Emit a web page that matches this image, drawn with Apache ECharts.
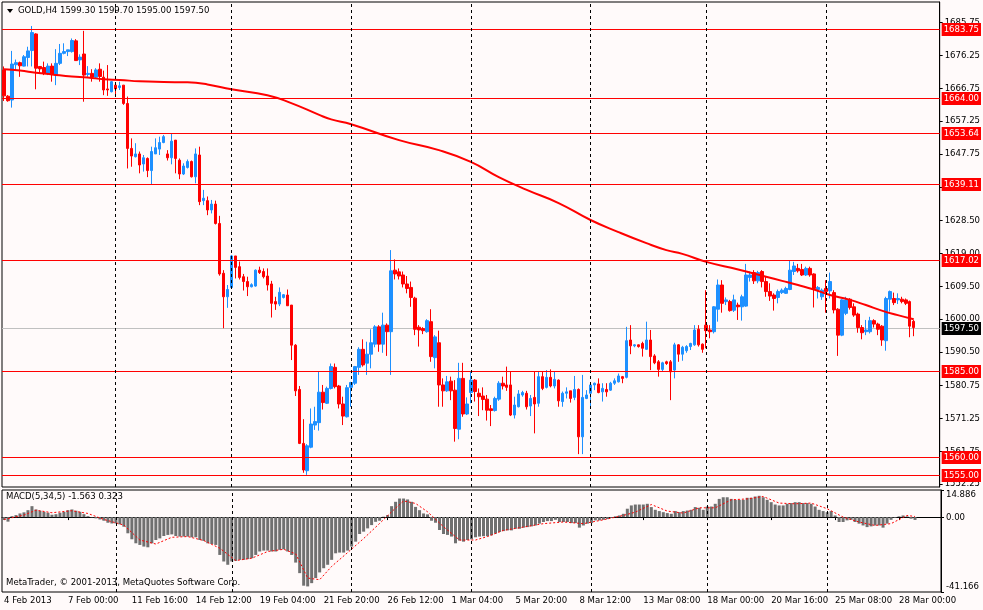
<!DOCTYPE html>
<html><head><meta charset="utf-8">
<script src="https://cdn.jsdelivr.net/npm/echarts@6/dist/echarts.min.js"></script>
<style>html,body{margin:0;padding:0;background:#FFFAFA;} #c{width:983px;height:610px;}</style>
</head><body><div id="c"></div>
<script>
const symbolName = 'GOLD,H4';
const opens = [1672.0,1664.4,1663.3,1673.5,1674.1,1673.1,1675.6,1677.6,1682.4,1673.0,
1672.7,1671.0,1673.1,1670.5,1673.9,1676.8,1677.3,1677.3,1680.4,1674.9,
1676.6,1670.7,1671.0,1669.9,1672.2,1669.9,1666.5,1665.7,1667.6,1666.9,
1667.6,1662.3,1649.3,1646.9,1647.7,1644.8,1646.4,1642.9,1647.7,1649.1,
1651.0,1647.7,1646.6,1651.7,1645.9,1641.9,1643.8,1645.5,1641.1,1647.4,
1634.2,1634.2,1631.5,1633.2,1627.6,1613.2,1606.4,1609.1,1618.2,1615.1,
1612.2,1610.8,1609.3,1609.5,1614.1,1613.7,1612.4,1610.1,1605.0,1604.3,
1606.2,1606.9,1604.0,1592.4,1579.6,1564.0,1556.1,1562.9,1569.3,1570.0,
1578.8,1575.6,1579.9,1586.0,1580.6,1575.4,1571.7,1580.2,1581.4,1586.0,
1591.2,1587.2,1589.8,1592.7,1597.7,1592.7,1598.2,1596.3,1614.1,1613.6,
1612.7,1610.1,1609.1,1606.0,1597.6,1597.2,1596.3,1599.2,1588.8,1593.1,
1580.9,1579.2,1582.0,1579.4,1568.1,1582.8,1572.5,1578.7,1582.3,1578.5,
1577.7,1576.8,1574.0,1573.5,1576.8,1581.4,1580.9,1580.9,1572.2,1574.6,
1578.0,1578.5,1574.8,1577.3,1575.6,1583.3,1580.2,1583.1,1580.6,1582.3,
1576.1,1578.5,1579.2,1577.3,1579.6,1565.9,1577.0,1578.5,1580.9,1581.2,
1578.9,1579.6,1579.4,1581.4,1581.8,1583.3,1583.1,1593.9,1592.2,1592.5,
1592.9,1591.2,1593.9,1589.3,1587.6,1585.4,1587.6,1587.6,1585.2,1592.5,
1589.8,1590.8,1592.0,1592.5,1597.0,1592.7,1598.2,1596.8,1596.3,1602.8,
1609.8,1605.0,1605.0,1602.5,1604.0,1603.5,1603.7,1612.0,1613.4,1611.0,
1613.7,1610.8,1607.9,1606.9,1606.2,1607.6,1607.4,1608.5,1613.7,1614.6,
1614.3,1612.7,1614.6,1613.0,1608.5,1606.4,1608.8,1608.1,1607.6,1602.8,
1595.3,1601.6,1605.7,1603.5,1601.4,1597.5,1596.3,1596.3,1599.5,1598.5,
1597.9,1593.7,1605.7,1605.9,1605.5,1605.7,1605.5,1605.0,1599.3];
const highs = [1673.0,1664.7,1677.5,1675.0,1674.4,1676.3,1678.7,1684.7,1682.6,1673.1,
1674.4,1673.9,1673.9,1678.0,1679.5,1679.7,1677.8,1681.1,1680.9,1676.5,
1683.3,1673.1,1672.2,1672.5,1673.9,1671.8,1673.4,1668.8,1668.1,1668.6,
1667.6,1664.3,1652.2,1650.8,1648.4,1647.4,1646.7,1649.8,1652.2,1652.7,
1653.2,1648.8,1653.7,1651.7,1646.4,1645.0,1646.1,1645.8,1649.3,1649.8,
1637.3,1635.4,1634.4,1634.2,1629.8,1614.1,1609.8,1618.5,1618.2,1616.6,
1613.0,1612.2,1610.3,1614.3,1615.1,1614.6,1614.6,1611.0,1606.4,1609.1,
1607.2,1608.5,1604.0,1592.7,1580.6,1571.0,1563.8,1574.1,1574.6,1584.7,
1580.9,1580.4,1587.1,1587.1,1580.9,1577.5,1580.9,1581.8,1586.4,1591.8,
1594.1,1593.4,1597.0,1598.2,1598.2,1601.8,1598.7,1619.9,1617.2,1614.6,
1613.7,1612.4,1610.8,1606.4,1598.2,1597.6,1599.9,1602.8,1595.3,1596.6,
1582.8,1583.5,1583.3,1582.3,1587.3,1587.3,1577.3,1584.7,1582.6,1579.9,
1580.2,1578.0,1575.1,1577.5,1582.0,1583.3,1586.2,1584.7,1577.5,1579.4,
1579.2,1579.2,1578.0,1584.7,1584.7,1584.7,1585.2,1585.4,1584.7,1582.5,
1579.0,1580.2,1579.2,1583.5,1579.9,1583.8,1579.4,1581.4,1581.6,1582.8,
1581.4,1581.4,1581.8,1582.8,1584.2,1583.5,1597.7,1598.2,1592.7,1592.6,
1593.4,1599.2,1596.8,1589.8,1588.1,1587.6,1587.9,1588.1,1593.1,1592.7,
1592.2,1592.4,1593.1,1598.2,1598.2,1592.9,1608.3,1598.2,1603.7,1611.4,
1611.2,1606.2,1605.5,1607.0,1604.7,1607.0,1615.9,1613.7,1614.1,1613.9,
1614.1,1612.2,1610.3,1607.4,1608.5,1608.8,1609.3,1616.8,1616.5,1615.9,
1615.9,1615.1,1615.1,1613.2,1609.5,1608.8,1611.2,1613.4,1608.3,1603.1,
1605.7,1606.4,1606.0,1604.5,1601.8,1598.2,1599.7,1600.6,1599.9,1598.9,
1598.2,1606.4,1608.2,1607.6,1607.4,1606.4,1605.9,1605.3,1599.7];
const lows = [1663.0,1662.8,1661.1,1672.0,1670.0,1673.0,1673.0,1673.0,1666.4,1671.0,
1670.5,1670.5,1668.6,1667.6,1673.4,1676.5,1676.0,1677.0,1674.7,1673.4,
1662.8,1670.0,1668.6,1669.6,1668.6,1664.7,1664.5,1665.5,1665.0,1666.2,
1661.9,1643.5,1644.0,1646.7,1642.1,1642.6,1641.0,1639.0,1647.7,1647.4,
1650.8,1645.8,1644.7,1642.1,1640.4,1641.6,1643.5,1640.9,1639.2,1632.9,
1632.9,1630.0,1630.5,1627.3,1612.5,1597.3,1603.2,1608.8,1611.7,1611.4,
1608.2,1606.6,1609.1,1609.3,1613.0,1611.7,1608.2,1600.4,1602.6,1603.7,
1605.9,1603.8,1588.1,1577.7,1563.8,1555.5,1554.9,1562.6,1567.9,1567.7,
1573.8,1575.4,1579.6,1579.9,1574.1,1569.3,1571.5,1574.6,1580.9,1583.8,
1586.2,1583.8,1585.7,1591.8,1590.5,1590.2,1589.3,1583.8,1611.4,1611.4,
1609.1,1607.4,1603.5,1595.3,1592.0,1595.6,1596.0,1587.6,1585.7,1574.6,
1574.6,1578.9,1576.5,1564.5,1565.2,1571.7,1572.2,1575.6,1576.1,1571.9,
1573.6,1570.6,1569.0,1573.2,1576.3,1579.6,1579.2,1571.9,1571.2,1574.4,
1577.5,1573.8,1571.9,1566.9,1574.6,1579.4,1579.9,1580.2,1579.9,1574.6,
1574.6,1577.0,1575.8,1576.5,1560.9,1560.9,1576.8,1574.6,1579.4,1578.5,
1576.1,1577.5,1579.2,1580.9,1581.6,1581.4,1582.8,1589.8,1591.8,1591.7,
1589.1,1591.0,1585.2,1586.9,1583.3,1584.7,1586.7,1576.5,1582.8,1587.6,
1587.9,1590.2,1591.0,1592.2,1592.0,1590.2,1591.5,1594.4,1595.8,1599.2,
1601.8,1604.0,1602.1,1602.0,1599.7,1599.5,1603.5,1610.8,1610.1,1610.3,
1609.1,1606.4,1605.2,1602.4,1604.5,1607.2,1607.2,1608.3,1612.7,1613.4,
1612.4,1612.4,1612.2,1603.3,1605.9,1605.5,1601.8,1605.9,1601.6,1589.3,
1595.0,1601.1,1602.7,1600.6,1596.0,1594.1,1595.3,1595.8,1597.5,1595.3,
1592.2,1590.8,1602.1,1604.0,1604.3,1604.5,1604.0,1594.7,1595.0];
const closes = [1664.5,1663.1,1673.7,1674.1,1673.2,1675.8,1677.5,1682.8,1672.5,1672.3,
1671.0,1673.1,1670.7,1673.9,1676.8,1677.3,1677.8,1680.5,1674.7,1675.7,
1670.5,1671.0,1669.9,1672.0,1670.1,1666.2,1666.2,1668.6,1666.5,1667.4,
1662.3,1649.3,1647.1,1647.7,1644.5,1646.6,1642.9,1648.4,1649.5,1651.0,
1652.7,1646.6,1651.4,1646.4,1641.9,1644.2,1645.5,1641.1,1647.7,1633.9,
1634.9,1631.5,1633.2,1627.6,1613.0,1606.4,1608.5,1618.2,1614.9,1612.0,
1610.8,1609.3,1609.9,1614.1,1613.4,1612.2,1609.8,1604.5,1604.3,1607.7,
1607.0,1603.8,1592.4,1579.2,1564.0,1556.3,1563.3,1569.6,1570.3,1578.8,
1575.8,1579.9,1586.2,1580.4,1575.4,1571.9,1580.1,1581.6,1586.2,1591.2,
1586.7,1589.8,1593.1,1597.7,1592.7,1598.2,1596.3,1613.9,1613.0,1612.4,
1610.1,1608.8,1606.2,1597.0,1596.8,1596.6,1599.5,1589.1,1594.8,1580.9,
1579.2,1581.8,1579.2,1568.3,1582.8,1572.5,1575.4,1582.3,1579.0,1577.5,
1576.7,1573.6,1573.5,1577.0,1581.4,1580.6,1580.2,1572.2,1575.1,1578.3,
1578.7,1574.6,1577.0,1575.4,1583.3,1579.9,1583.1,1580.6,1582.5,1576.3,
1578.5,1578.9,1577.0,1579.6,1565.9,1577.3,1578.0,1580.9,1581.4,1578.7,
1579.9,1578.9,1581.4,1582.1,1583.5,1582.8,1593.7,1592.2,1592.5,1592.0,
1591.5,1593.9,1589.1,1587.3,1585.4,1587.3,1587.1,1584.7,1592.5,1589.8,
1591.8,1592.0,1592.9,1596.8,1592.5,1591.2,1596.6,1596.3,1603.5,1609.8,
1604.5,1605.5,1602.4,1605.5,1603.5,1606.4,1612.7,1612.7,1611.0,1613.4,
1610.8,1607.9,1606.6,1605.9,1607.9,1608.3,1608.8,1614.1,1615.3,1613.9,
1612.7,1614.6,1612.7,1608.8,1609.1,1608.3,1607.9,1610.8,1602.6,1595.3,
1605.5,1605.5,1603.3,1601.1,1597.5,1596.0,1596.8,1599.5,1598.5,1597.0,
1593.9,1605.9,1607.9,1604.7,1605.9,1605.0,1604.5,1597.9,1597.5];
// moving average (bar index, value)
const maPoints = [[0,1672.2],[4,1671.8],[8,1671.2],[12,1670.7],[17,1670.1],[21,1669.8],[25,1669.3],[29,1669.1],[34,1668.7],[40,1668.5],[46,1668.4],[51,1667.8],[57,1666.4],[66,1664.7],[72,1662.4],[79,1659.0],[82,1657.7],[87,1656.3],[99,1651.7],[109,1648.8],[117,1645.4],[124,1641.0],[131,1637.3],[139,1633.5],[147,1628.6],[154,1625.1],[161,1621.9],[166,1619.9],[170,1618.8],[176,1616.5],[184,1614.3],[191,1612.2],[195,1611.0],[199,1609.8],[203,1608.5],[207,1606.9],[212,1605.5],[216,1604.0],[220,1602.4],[224,1601.1],[228,1599.9]];
const macdMain = [-1.6,-2.5,0.5,1.1,2.0,2.6,3.8,6.0,4.2,3.5,
2.9,2.4,1.3,1.6,2.4,2.9,3.8,4.2,3.5,2.9,
1.6,0.5,-0.2,-0.7,-1.3,-2.0,-3.1,-3.5,-3.5,-4.0,
-5.3,-8.9,-12.2,-14.4,-15.3,-16.2,-16.6,-14.4,-12.6,-11.7,
-10.4,-9.8,-9.5,-10.4,-10.7,-10.7,-10.7,-11.1,-11.1,-12.6,
-13.1,-14.4,-14.8,-15.3,-20.8,-24.4,-26.2,-24.4,-24.1,-23.5,
-23.5,-23.1,-22.6,-20.8,-18.9,-18.4,-18.4,-18.9,-18.9,-18.0,
-17.7,-18.9,-20.8,-25.0,-30.8,-37.7,-38.1,-36.3,-33.5,-30.4,
-28.1,-26.2,-23.5,-19.9,-19.5,-19.5,-18.4,-16.2,-13.5,-9.3,
-8.0,-6.2,-4.4,-2.6,-2.0,0.2,1.1,6.0,8.4,10.2,
10.2,9.7,8.4,5.6,3.8,2.0,1.5,-2.0,-3.1,-7.1,
-9.3,-9.8,-10.7,-14.4,-12.9,-13.5,-12.6,-12.2,-11.1,-10.7,
-10.5,-10.5,-10.0,-9.1,-8.2,-7.7,-7.3,-7.3,-6.4,-6.4,
-5.8,-5.5,-5.1,-4.6,-3.6,-2.7,-2.2,-2.2,-1.5,-2.7,
-2.7,-2.7,-3.3,-3.3,-5.8,-4.6,-3.6,-3.3,-1.8,-1.8,
-1.5,-1.1,-0.4,0.4,0.9,1.8,4.6,6.4,6.9,6.9,
6.9,7.3,5.5,4.0,3.3,2.7,2.2,1.8,3.3,2.7,
3.3,3.6,4.0,5.5,5.1,4.0,5.8,5.8,7.3,10.0,
10.9,10.9,10.0,9.5,9.5,9.5,10.6,10.6,11.3,11.7,
10.9,9.5,8.2,6.9,6.4,6.4,7.3,7.7,8.2,8.2,
7.7,7.7,7.3,5.8,4.0,3.3,2.7,3.3,0.9,-2.7,
-2.7,-1.8,-1.5,-2.7,-3.6,-4.6,-5.5,-5.1,-4.6,-4.6,
-5.8,-3.6,-1.5,-0.4,0.4,0.9,0.4,-0.9,-1.563];
const macdSignal = [[0,-1.3],[5,1.1],[8,3.8],[12,2.4],[17,3.5],[21,2.0],[25,-1.3],[30,-4.4],[34,-12.6],[38,-14.8],[42,-11.1],[46,-10.7],[50,-12.9],[54,-17.1],[58,-23.9],[62,-22.6],[66,-18.9],[70,-17.7],[73,-20.2],[76,-33.5],[79,-34.4],[82,-27.1],[86,-19.5],[90,-11.8],[94,-3.5],[97,2.9],[100,8.9],[103,7.5],[106,2.9],[110,-5.3],[114,-12.6],[118,-12.6],[121,-10.7],[125,-7.3],[130,-5.5],[135,-3.6],[140,-2.7],[145,-3.6],[150,-1.5],[155,0.9],[158,2.7],[162,6.9],[166,3.3],[170,2.2],[174,5.1],[178,5.1],[182,9.5],[186,10.0],[190,11.3],[194,7.7],[198,7.3],[202,7.7],[206,4.6],[210,0.0],[214,-2.7],[218,-4.6],[222,-3.6],[226,0.9],[228,0.323]];
const timeLabels = ['4 Feb 2013','7 Feb 00:00','11 Feb 16:00','14 Feb 12:00','19 Feb 04:00','21 Feb 20:00','26 Feb 12:00','1 Mar 04:00','5 Mar 20:00','8 Mar 12:00','13 Mar 08:00','18 Mar 00:00','20 Mar 16:00','25 Mar 08:00','28 Mar 00:00'];
const weekStarts = [28,57,87,117,147,176,206];
const levels = [1683.75,1664.00,1653.64,1639.11,1617.02,1585.00,1560.00,1555.00];
const lastPrice = 1597.50;
const priceTicks = [1552.25,1561.75,1571.25,1580.75,1590.50,1600.00,1609.50,1619.00,1628.50,1638.00,1647.75,1657.25,1666.75,1676.25,1685.75];
const macdTicks = [-41.166,0,14.886];

const N = 235;
const FONT = "'DejaVu Sans Condensed','Liberation Sans',Arial,sans-serif";
const FS = 9.5;
const cats = Array.from({length: N}, (_, i) => String(i));
const candles = opens.map((o, i) => [o, closes[i], lows[i], highs[i]]);
const isLabel = i => i % 16 === 0 && i / 16 < timeLabels.length;
const last = opens.length - 1;

const sepLines = weekStarts.map(i => ({xAxis: i}));

// horizontal level line with a price box on the right, snapped to the pixel grid
const levelRenderer = (lineColor, boxColor) => (params, api) => {
  const v = api.value(1);
  const y = Math.round(api.coord([0, v])[1]) + 0.5;
  const cs = params.coordSys;
  return {type: 'group', children: [
    {type: 'line', shape: {x1: cs.x, y1: y, x2: cs.x + cs.width, y2: y}, style: {stroke: lineColor, lineWidth: 1}},
    {type: 'text', x: cs.x + cs.width + 2, y: y, z2: 10, style: {text: v.toFixed(2), fill: '#fff', backgroundColor: boxColor,
      padding: [2, 2, 1, 2], font: FS + 'px ' + FONT, align: 'left', verticalAlign: 'middle'}}
  ]};
};

const chart = echarts.init(document.getElementById('c'), null, {renderer: 'canvas'});
chart.setOption({
  animation: false,
  backgroundColor: '#FFFAFA',
  grid: [
    {left: 2, top: 2, width: 939, height: 485, show: true, borderColor: '#000', borderWidth: 1, backgroundColor: 'transparent'},
    {left: 2, top: 490, width: 939, height: 102, show: true, borderColor: '#000', borderWidth: 1, backgroundColor: 'transparent'}
  ],
  xAxis: [
    {type: 'category', gridIndex: 0, data: cats, boundaryGap: true, axisLine: {show: false}, axisTick: {show: false}, axisLabel: {show: false}, splitLine: {show: false}},
    {type: 'category', gridIndex: 1, data: cats, boundaryGap: true, axisLine: {show: true, lineStyle: {color: '#000'}},
      axisTick: {show: true, interval: i => isLabel(i), alignWithLabel: true, length: 3, lineStyle: {color: '#000'}},
      axisLabel: {show: true, interval: i => isLabel(i), formatter: (v, i) => timeLabels[i / 16] || '', align: 'left', color: '#000', fontSize: FS, fontFamily: FONT, margin: 4},
      splitLine: {show: false}}
  ],
  yAxis: [
    {type: 'value', gridIndex: 0, position: 'right', min: 1551.39, max: 1691.64, splitLine: {show: false},
      axisLine: {show: true, lineStyle: {color: '#000'}},
      axisTick: {show: true, customValues: priceTicks, length: 3, lineStyle: {color: '#000'}},
      axisLabel: {show: true, customValues: priceTicks, formatter: v => v.toFixed(2), color: '#000', fontSize: FS, fontFamily: FONT, margin: 5}},
    {type: 'value', gridIndex: 1, position: 'right', min: -41.166, max: 14.886, splitLine: {show: false},
      axisLine: {show: true, lineStyle: {color: '#000'}},
      axisTick: {show: true, customValues: macdTicks, length: 3, lineStyle: {color: '#000'}},
      axisLabel: {show: true, customValues: macdTicks, formatter: v => v === 0 ? '0.00' : v.toFixed(3), color: '#000', fontSize: FS, fontFamily: FONT, margin: 5,
        verticalAlignMinLabel: 'bottom', verticalAlignMaxLabel: 'top'}}
  ],
  series: [
    {type: 'custom', name: 'bid', xAxisIndex: 0, yAxisIndex: 0, data: [[0, lastPrice]], clip: false, z: 1,
      renderItem: levelRenderer('#c0c0c0', '#000000'), silent: true},
    {type: 'candlestick', xAxisIndex: 0, yAxisIndex: 0, data: candles, barWidth: 3, z: 2,
      itemStyle: {color: '#1E90FF', color0: '#FF0000', borderColor: '#1E90FF', borderColor0: '#FF0000', borderWidth: 1},
      markLine: {symbol: 'none', silent: true, animation: false, label: {show: false},
        lineStyle: {color: '#000', width: 1, type: [3, 3]}, data: sepLines}},
    {type: 'custom', name: 'levels', xAxisIndex: 0, yAxisIndex: 0, data: levels.map(v => [0, v]), clip: false, z: 3,
      renderItem: levelRenderer('#ff0000', '#ff0000'), silent: true},
    {type: 'line', xAxisIndex: 0, yAxisIndex: 0, data: maPoints, smooth: true, showSymbol: false, symbol: 'none',
      lineStyle: {color: '#FF0000', width: 2}, z: 4},
    {type: 'bar', xAxisIndex: 1, yAxisIndex: 1, data: macdMain, barWidth: 3, itemStyle: {color: '#707070'},
      markLine: {symbol: 'none', silent: true, animation: false, label: {show: false},
        lineStyle: {color: '#000', width: 1, type: [3, 3]}, data: sepLines}},
    {type: 'line', xAxisIndex: 1, yAxisIndex: 1, data: macdSignal, showSymbol: false, symbol: 'none',
      lineStyle: {color: '#FF0000', width: 1, type: [2, 2]}, z: 3}
  ],
  graphic: [
    {type: 'polygon', shape: {points: [[7, 9], [13, 9], [10, 13]]}, style: {fill: '#000'}},
    {type: 'text', left: 18, top: 6, style: {text: symbolName + ' ' + [opens[last], highs[last], lows[last], closes[last]].map(v => v.toFixed(2)).join(' '), fill: '#000', font: FS + 'px ' + FONT}},
    {type: 'text', left: 6, top: 492, style: {text: 'MACD(5,34,5) ' + macdMain[last].toFixed(3) + ' ' + macdSignal[macdSignal.length - 1][1].toFixed(3), fill: '#000', font: FS + 'px ' + FONT}},
    {type: 'text', left: 6, top: 578, style: {text: 'MetaTrader, © 2001-2013, MetaQuotes Software Corp.', fill: '#000', font: FS + 'px ' + FONT}}
  ]
});
</script>
</body></html>
